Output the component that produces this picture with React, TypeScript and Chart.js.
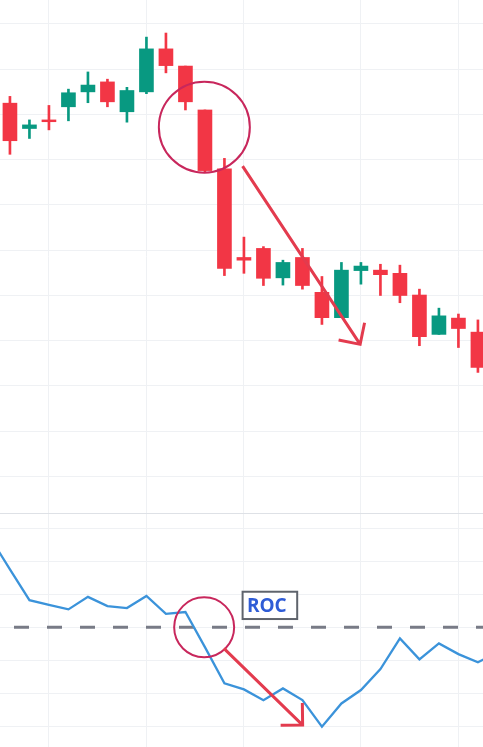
import React, { useEffect, useRef } from "react";
import { Chart, registerables } from "chart.js";

Chart.register(...registerables);

// ---- Data ----
const candleIndex = [0, 1, 2, 3, 4, 5, 6, 7, 8, 9, 10, 11, 12, 13, 14, 15, 16, 17, 18, 19, 20, 21, 22, 23, 24];
const opens = [182.5, 176.9, 178.8, 181.7, 185.0, 187.2, 180.6, 185.0, 194.5, 190.7, 181.0, 168.0, 148.4, 150.4, 143.9, 148.4, 140.7, 135.1, 145.5, 145.6, 144.9, 140.1, 131.4, 135.0, 131.9];
const highs = [184.0, 178.8, 182.0, 185.6, 189.4, 187.8, 186.0, 197.1, 198.0, 190.7, 181.0, 170.3, 152.9, 150.8, 147.8, 150.4, 144.2, 147.3, 147.3, 146.9, 146.7, 141.4, 137.2, 135.9, 134.6];
const lows = [171.2, 174.7, 176.6, 178.6, 182.6, 181.7, 178.3, 184.6, 189.2, 181.0, 167.3, 144.4, 144.9, 142.2, 142.3, 141.4, 133.6, 135.1, 142.5, 140.0, 138.4, 128.9, 131.4, 128.5, 123.0];
const closes = [174.2, 177.7, 178.4, 184.8, 186.5, 182.8, 185.3, 194.5, 190.8, 182.8, 167.6, 146.0, 147.8, 143.8, 147.3, 142.2, 135.1, 145.6, 146.5, 144.6, 140.0, 130.9, 135.5, 132.7, 124.1];

const rocIndex = [-1, 0, 1, 2, 3, 4, 5, 6, 7, 8, 9, 10, 11, 12, 13, 14, 15, 16, 17, 18, 19, 20, 21, 22, 23, 24, 25];
const rocValues = [5.4, 3.52, 1.65, 1.37, 1.09, 1.85, 1.29, 1.17, 1.9, 0.82, 0.93, -1.2, -3.39, -3.76, -4.41, -3.7, -4.41, -6.02, -4.61, -3.8, -2.53, -0.67, -1.94, -0.97, -1.62, -2.12, -1.53];
const rocZero = 0;

// gridline positions (tick values)
const xGridTicks = [2, 7, 12, 18, 23];
const priceGridTicks = [100, 110, 120, 130, 140, 150, 160, 170, 180, 190, 200];
const rocGridTicks = [6, 4, 2, 0, -2, -4, -6];

// visible ranges
const X_MIN = -0.51;
const X_MAX = 24.26;
const PRICE_MIN = 91.93;
const PRICE_MAX = 205.3;
const ROC_MIN = -7.25;
const ROC_MAX = 6.87;

// annotations (data coordinates)
const topCircle = { x: 9.97, y: 177.2 };
const topArrow = { x1: 11.93, y1: 168.6, x2: 17.96, y2: 129.2 };
const rocCircle = { x: 9.96, y: 0 };
const rocArrow = { x1: 10.97, y1: -1.27, x2: 15.01, y2: -5.92 };
const rocLabel = { x: 11.88, y: 2.22, text: "ROC" };

// ---- Styles ----
const RED = "#F23645";
const GREEN = "#089981";
const GRID = "#EFF1F4";
const ROC_BLUE = "#3B93DA";
const ZERO_GRAY = "#787B86";
const CIRCLE_COLOR = "#C8275C";
const ARROW_COLOR = "#E33B4E";

function drawArrow(ctx: CanvasRenderingContext2D, x1: number, y1: number, x2: number, y2: number) {
  const ang = Math.atan2(y1 - y2, x1 - x2);
  const len = 22;
  ctx.beginPath();
  ctx.moveTo(x1, y1);
  ctx.lineTo(x2, y2);
  ctx.moveTo(x2 + len * Math.cos(ang - Math.PI / 4), y2 + len * Math.sin(ang - Math.PI / 4));
  ctx.lineTo(x2, y2);
  ctx.lineTo(x2 + len * Math.cos(ang + Math.PI / 4), y2 + len * Math.sin(ang + Math.PI / 4));
  ctx.strokeStyle = ARROW_COLOR;
  ctx.lineWidth = 3;
  ctx.lineJoin = "miter";
  ctx.lineCap = "butt";
  ctx.stroke();
}

function makeXAxis(): any {
  return {
    type: "linear",
    min: X_MIN,
    max: X_MAX,
    offset: false,
    afterBuildTicks: (axis: any) => {
      axis.ticks = xGridTicks.map((v) => ({ value: v }));
    },
    ticks: { display: false },
    grid: { color: GRID, drawTicks: false, offset: false, lineWidth: 1 },
    border: { display: false },
  };
}

const topAnnotations = {
  id: "topAnnotations",
  afterDatasetsDraw(chart: any) {
    const { ctx, scales } = chart;
    const x = scales.x;
    const y = scales.y;
    ctx.save();
    ctx.beginPath();
    ctx.arc(x.getPixelForValue(topCircle.x), y.getPixelForValue(topCircle.y), 45.5, 0, Math.PI * 2);
    ctx.strokeStyle = CIRCLE_COLOR;
    ctx.lineWidth = 2;
    ctx.stroke();
    drawArrow(
      ctx,
      x.getPixelForValue(topArrow.x1),
      y.getPixelForValue(topArrow.y1),
      x.getPixelForValue(topArrow.x2),
      y.getPixelForValue(topArrow.y2)
    );
    ctx.restore();
  },
};

const rocAnnotations = {
  id: "rocAnnotations",
  afterDatasetsDraw(chart: any) {
    const { ctx, scales } = chart;
    const x = scales.x;
    const y = scales.y;
    ctx.save();
    ctx.beginPath();
    ctx.arc(x.getPixelForValue(rocCircle.x), y.getPixelForValue(rocCircle.y), 30, 0, Math.PI * 2);
    ctx.strokeStyle = CIRCLE_COLOR;
    ctx.lineWidth = 2;
    ctx.stroke();
    drawArrow(
      ctx,
      x.getPixelForValue(rocArrow.x1),
      y.getPixelForValue(rocArrow.y1),
      x.getPixelForValue(rocArrow.x2),
      y.getPixelForValue(rocArrow.y2)
    );
    // label box
    const bx = x.getPixelForValue(rocLabel.x);
    const by = y.getPixelForValue(rocLabel.y);
    ctx.fillStyle = "#FFFFFF";
    ctx.fillRect(bx, by, 56.6, 29.3);
    ctx.strokeStyle = "#5F646C";
    ctx.lineWidth = 2;
    ctx.strokeRect(bx + 1, by + 1, 54.6, 27.3);
    ctx.fillStyle = "#2F5CD6";
    ctx.font = "bold 19px 'Open Sans'";
    ctx.textBaseline = "alphabetic";
    ctx.textAlign = "left";
    ctx.fillText(rocLabel.text, bx + 5.3, by + 21.6);
    ctx.restore();
  },
};

export default function App() {
  const topRef = useRef<HTMLCanvasElement>(null);
  const bottomRef = useRef<HTMLCanvasElement>(null);

  useEffect(() => {
    document.body.style.margin = "0";
    const candleColors = candleIndex.map((_, i) => (closes[i] >= opens[i] ? GREEN : RED));

    const top = new Chart(topRef.current as HTMLCanvasElement, {
      type: "bar",
      data: {
        datasets: [
          {
            label: "wick",
            data: candleIndex.map((i) => ({ x: i, y: [lows[i], highs[i]] })) as any,
            backgroundColor: candleColors,
            barThickness: 2,
            grouped: false,
            order: 2,
          } as any,
          {
            label: "body",
            data: candleIndex.map((i) => ({ x: i, y: [opens[i], closes[i]] })) as any,
            backgroundColor: candleColors,
            barThickness: 14,
            grouped: false,
            order: 1,
          } as any,
        ],
      },
      options: {
        responsive: false,
        animation: false,
        layout: { padding: 0, autoPadding: false } as any,
        plugins: { legend: { display: false }, tooltip: { enabled: false } },
        scales: {
          x: makeXAxis(),
          y: {
            type: "linear",
            min: PRICE_MIN,
            max: PRICE_MAX,
            afterBuildTicks: (axis: any) => {
              axis.ticks = priceGridTicks.map((v) => ({ value: v }));
            },
            ticks: { display: false },
            grid: { color: GRID, drawTicks: false, lineWidth: 1 },
            border: { display: false },
          },
        },
      },
      plugins: [topAnnotations],
    });

    const bottom = new Chart(bottomRef.current as HTMLCanvasElement, {
      type: "line",
      data: {
        datasets: [
          {
            label: "ROC",
            data: rocIndex.map((xv, i) => ({ x: xv, y: rocValues[i] })),
            borderColor: ROC_BLUE,
            borderWidth: 2.3,
            pointRadius: 0,
            tension: 0,
            fill: false,
            order: 1,
          },
          {
            label: "zero",
            data: [
              { x: X_MIN, y: rocZero },
              { x: X_MAX, y: rocZero },
            ],
            borderColor: ZERO_GRAY,
            borderWidth: 3,
            borderDash: [15, 18],
            borderDashOffset: 19,
            pointRadius: 0,
            fill: false,
            order: 2,
          },
        ],
      },
      options: {
        responsive: false,
        animation: false,
        layout: { padding: 0, autoPadding: false } as any,
        plugins: { legend: { display: false }, tooltip: { enabled: false } },
        scales: {
          x: makeXAxis(),
          y: {
            type: "linear",
            min: ROC_MIN,
            max: ROC_MAX,
            afterBuildTicks: (axis: any) => {
              axis.ticks = rocGridTicks.map((v) => ({ value: v }));
            },
            ticks: { display: false },
            grid: { color: GRID, drawTicks: false, lineWidth: 1 },
            border: { display: false },
          },
        },
      },
      plugins: [rocAnnotations],
    });

    return () => {
      top.destroy();
      bottom.destroy();
    };
  }, []);

  return (
    <div style={{ position: "absolute", left: 0, top: 0, width: 483, height: 747, background: "#FFFFFF" }}>
      <canvas ref={topRef} width={483} height={513} style={{ display: "block" }} />
      <div style={{ height: 1, background: "#DEE1E6" }} />
      <canvas ref={bottomRef} width={483} height={233} style={{ display: "block" }} />
    </div>
  );
}
